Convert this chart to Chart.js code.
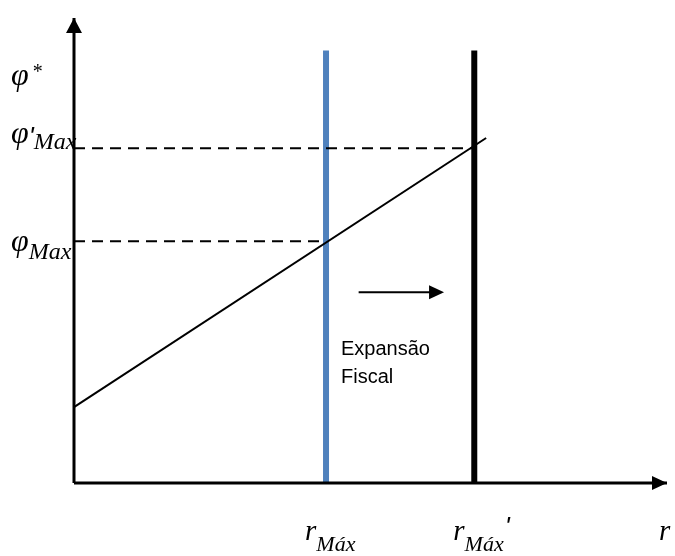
<!DOCTYPE html>
<html>
<head>
<meta charset="utf-8">
<script src="https://cdn.jsdelivr.net/npm/chart.js@4.4.1/dist/chart.umd.min.js"></script>
<style>
  html, body { margin: 0; padding: 0; background: #fff; }
  #wrap { width: 675px; height: 556px; position: relative; }
</style>
</head>
<body>
<div id="wrap"><canvas id="diagram"></canvas></div>
<script>
// diagram values (axes run 0..100 in both directions)
var rMax = [42.5, 67.5];          // r_Máx, r_Máx'
var phiLevels = [52, 72];         // φ_Max, φ'_Max
var vLineTop = 93;
var curveX = [0, 69.5];
var curveY = [16.3, 74.2];
var shiftX = [48, 62.4];
var shiftY = 41;
var shiftText = ['Expansão', 'Fiscal'];

var serif = '"Liberation Serif", "Times New Roman", serif';

function seg(x0, y0, x1, y1) {
    return [{x: x0, y: y0}, {x: x1, y: y1}];
}

function lineSet(data, color, width, dash) {
    return {
        data: data,
        showLine: true,
        borderColor: color,
        borderWidth: width,
        borderDash: dash || [],
        pointRadius: 0,
        clip: false
    };
}

function arrowHead(ctx, x, y, dir, len, half) {
    ctx.beginPath();
    if (dir == 'right') {
        ctx.moveTo(x, y);
        ctx.lineTo(x - len, y - half);
        ctx.lineTo(x - len, y + half);
    } else {
        ctx.moveTo(x, y);
        ctx.lineTo(x - half, y + len);
        ctx.lineTo(x + half, y + len);
    }
    ctx.closePath();
    ctx.fill();
}

function prime(ctx, x, y) {
    ctx.font = 'italic 26px "Liberation Sans", Arial, sans-serif';
    ctx.fillText("'", x, y);
    return ctx.measureText("'").width;
}

// main letter + optional prime + optional subscript
function mathLabel(ctx, x, y, sizes, main, withPrime, sub, drop) {
    ctx.font = 'italic ' + sizes[0] + 'px ' + serif;
    ctx.fillText(main, x, y);
    var w = ctx.measureText(main).width;
    if (withPrime) w += prime(ctx, x + w, y + 2);
    if (sub) {
        ctx.font = 'italic ' + sizes[1] + 'px ' + serif;
        ctx.fillText(sub, x + w, y + drop);
        w += ctx.measureText(sub).width;
    }
    return w;
}

var decorations = {
    id: 'decorations',
    afterDatasetsDraw: function (chart) {
        var ctx = chart.ctx;
        var xs = chart.scales.x, ys = chart.scales.y;
        ctx.save();
        ctx.fillStyle = '#000';

        // axis arrow heads
        arrowHead(ctx, xs.getPixelForValue(100), ys.getPixelForValue(0), 'right', 15, 7);
        arrowHead(ctx, xs.getPixelForValue(0), ys.getPixelForValue(100), 'up', 15, 8);
        // shift arrow head
        arrowHead(ctx, xs.getPixelForValue(shiftX[1]), ys.getPixelForValue(shiftY), 'right', 15, 7);

        // Expansão Fiscal
        ctx.font = '20px "Liberation Sans", Arial, sans-serif';
        var tx = xs.getPixelForValue(rMax[0]) + 15;
        var ty = ys.getPixelForValue(shiftY);
        ctx.fillText(shiftText[0], tx, ty + 63);
        ctx.fillText(shiftText[1], tx, ty + 91);

        // y axis labels
        var phiSizes = [32, 24];
        var lx = xs.getPixelForValue(0) - 63;
        var w = mathLabel(ctx, lx, ys.getPixelForValue(100) + 67, phiSizes, 'φ');
        ctx.font = '20px ' + serif;
        ctx.fillText('*', lx + w + 4, ys.getPixelForValue(100) + 60);
        mathLabel(ctx, lx, ys.getPixelForValue(phiLevels[1]) - 5, phiSizes, 'φ', true, 'Max', 6);
        mathLabel(ctx, lx, ys.getPixelForValue(phiLevels[0]) + 10, phiSizes, 'φ', false, 'Max', 8);

        // x axis labels
        var rSizes = [29, 22];
        var by = ys.getPixelForValue(0) + 57;
        mathLabel(ctx, xs.getPixelForValue(rMax[0]) - 21, by, rSizes, 'r', false, 'Máx', 11);
        var bx = xs.getPixelForValue(rMax[1]) - 21;
        var w2 = mathLabel(ctx, bx, by, rSizes, 'r', false, 'Máx', 11);
        prime(ctx, bx + w2 + 1, by - 5);
        ctx.font = 'italic ' + rSizes[0] + 'px ' + serif;
        ctx.fillText('r', xs.getPixelForValue(100) - 8, by);
        ctx.restore();
    }
};

var ctx = document.getElementById('diagram').getContext('2d');
var myChart = new Chart(ctx, {
    type: 'scatter',
    data: {
        datasets: [
            lineSet(seg(0, phiLevels[0], rMax[0], phiLevels[0]), '#000', 2, [11, 7]),
            lineSet(seg(0, phiLevels[1], rMax[1], phiLevels[1]), '#000', 2, [11, 7]),
            lineSet(seg(curveX[0], curveY[0], curveX[1], curveY[1]), '#000', 2),
            lineSet(seg(0, 0, 100, 0), '#000', 3),
            lineSet(seg(0, 0, 0, 100), '#000', 3),
            lineSet(seg(rMax[0], 0, rMax[0], vLineTop), '#4F81BD', 6),
            lineSet(seg(rMax[1], 0, rMax[1], vLineTop), '#000', 6),
            lineSet(seg(shiftX[0], shiftY, shiftX[1] - 2, shiftY), '#000', 2)
        ]
    },
    options: {
        responsive: true,
        maintainAspectRatio: false,
        animation: false,
        events: [],
        layout: { padding: { left: 74, right: 8, top: 18, bottom: 73 } },
        plugins: { legend: { display: false }, tooltip: { enabled: false } },
        scales: {
            x: { type: 'linear', min: 0, max: 100, display: false },
            y: { type: 'linear', min: 0, max: 100, display: false }
        }
    },
    plugins: [decorations]
});
</script>
</body>
</html>
